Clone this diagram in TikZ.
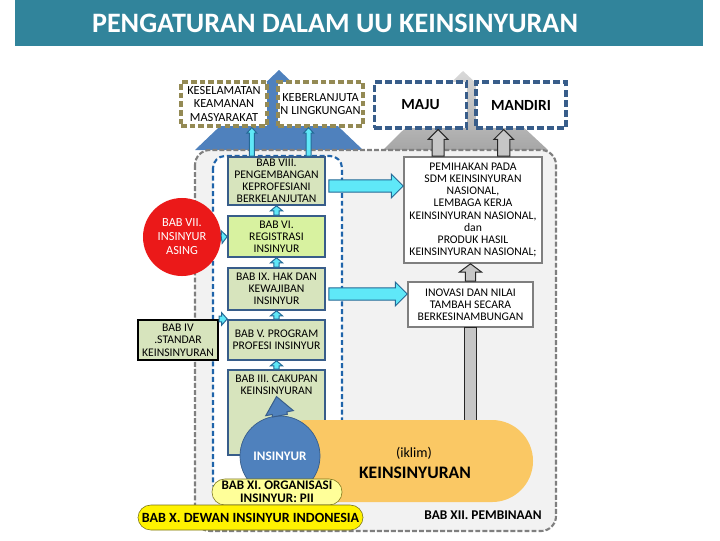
\documentclass[tikz,border=0pt]{standalone}
\usepackage{fontspec}
\setmainfont{Carlito}
\usepackage{xcolor}
\usepackage{tikz}
\usetikzlibrary{positioning,calc}

\definecolor{titlebar}{RGB}{49,132,155}
\definecolor{bigblue}{RGB}{79,129,189}
\definecolor{boxedge}{RGB}{56,93,138}
\definecolor{olivegreen}{RGB}{215,228,189}
\definecolor{limegreen}{RGB}{216,242,160}
\definecolor{cyanfill}{RGB}{95,232,248}
\definecolor{cyanedge}{RGB}{35,105,150}
\definecolor{dashgray}{RGB}{127,127,127}
\definecolor{panel}{RGB}{242,242,242}
\definecolor{khaki}{RGB}{148,138,84}
\definecolor{bluedash}{RGB}{31,100,170}
\definecolor{redball}{RGB}{235,25,25}
\definecolor{climate}{RGB}{250,200,100}
\definecolor{paleyellow}{RGB}{255,255,153}

% block arrow: [style]{from}{to}{half shaft}{half head}{head length}
\newcommand{\fatarrow}[6][]{%
  \coordinate (fa) at ($(#3)!#6!(#2)$);
  \draw[#1] ($(#2)!#4!90:(#3)$) -- ($(fa)!#4!90:(#3)$) -- ($(fa)!#5!90:(#3)$) -- (#3)
    -- ($(fa)!#5!-90:(#3)$) -- ($(fa)!#4!-90:(#3)$) -- ($(#2)!#4!-90:(#3)$) -- cycle;}

\begin{document}
\begin{tikzpicture}[x=0.025cm, y=-0.025cm,
  txt/.style={font=\fontsize{8.3}{8.6}\selectfont, align=center},
  gbox/.style={txt, draw=boxedge, line width=1.1pt, fill=olivegreen, minimum width=2.425cm, inner xsep=1pt, inner ysep=0pt},
  goalbox/.style={draw=khaki, fill=white, line width=2.2pt, dash pattern=on 4pt off 2.2pt, align=center, font=\fontsize{8.8}{9.6}\selectfont, inner sep=0pt},
  aimbox/.style={draw=boxedge, fill=white, line width=2.2pt, dash pattern=on 5pt off 2.2pt, font=\fontsize{11}{13}\selectfont\bfseries, minimum width=2.3cm, minimum height=1.15cm},
  whitebox/.style={txt, draw=dashgray, fill=white, line width=1.1pt, inner sep=1pt},
  cyanarr/.style={fill=cyanfill, draw=cyanedge, line width=0.7pt},
  grayarr/.style={fill=gray!45, draw=black!85, line width=0.7pt},
  insarr/.style={fill=bigblue, draw=boxedge, line width=0.7pt},
  ovalbox/.style={draw=olive!80!black, rounded corners=0.32cm, font=\fontsize{9.3}{9}\selectfont\bfseries, align=center, inner sep=0pt}]

\useasboundingbox (0,0) rectangle (720,540);

% title
\fill[titlebar] (15,0) rectangle (703,46);
\node[text=white, font=\fontsize{20}{22}\selectfont\bfseries] (title) at (335,23) {PENGATURAN DALAM UU KEINSINYURAN};

% goals
\fill[bigblue] (195,150) -- (279,70) -- (363,150) -- cycle;
\shade[top color=gray!30, bottom color=gray!70] (383,150) -- (463,71) -- (548,150) -- cycle;
\node[goalbox, minimum width=2.15cm, minimum height=1.1cm] (kesel) at (224,104) {KESELAMATAN\\KEAMANAN\\MASYARAKAT};
\node[goalbox, minimum width=2.125cm, minimum height=1.1cm] (keber) at (320.5,104) {KEBERLANJUTA\\N LINGKUNGAN};
\node[aimbox] (maju) at (420.5,105) {MAJU};
\node[aimbox, minimum width=2.25cm] (mandiri) at (521,105) {MANDIRI};

% panels
\draw[dashgray, fill=panel, line width=1.5pt, dash pattern=on 3.5pt off 1.5pt, rounded corners=0.375cm] (195,150) rectangle (556,531);
\draw[bluedash, fill=white, line width=1.5pt, dash pattern=on 3.5pt off 2pt, rounded corners=0.3cm] (213,156) rectangle (342,495);

% chapters
\node[gbox, minimum height=1.2cm] (b8) at (276.5,181) {BAB VIII.\\PENGEMBANGAN\\KEPROFESIANI\\BERKELANJUTAN};
\node[gbox, fill=limegreen, minimum height=1.025cm] (b6) at (276.5,236.5) {BAB VI.\\REGISTRASI\\INSINYUR};
\node[gbox, minimum height=1.05cm] (b9) at (276.5,289) {BAB IX. HAK DAN\\KEWAJIBAN\\INSINYUR};
\node[gbox, minimum height=1cm] (b5) at (276.5,340) {BAB V. PROGRAM\\PROFESI INSINYUR};
\node[gbox, minimum height=2.125cm, label={[txt, name=b3t, anchor=north, inner sep=1pt, yshift=-3pt]north:{BAB III. CAKUPAN\\KEINSINYURAN}}] (b3) at (276.5,412.5) {};

\node[circle, fill=redball, text=white, minimum size=1.95cm, inner sep=0pt, align=center, font=\fontsize{8.8}{10}\selectfont] (b7) at (182,237) {BAB VII.\\INSINYUR\\ASING};
\node[txt, draw=black, line width=1.5pt, fill=olivegreen, minimum width=2cm, minimum height=1cm, inner sep=0pt, font=\fontsize{8.3}{9}\selectfont] (b4) at (178,340) {BAB IV\\.STANDAR\\KEINSINYURAN};

\node[whitebox, minimum width=3.45cm, minimum height=2.65cm] (pemi) at (473,210) {PEMIHAKAN PADA\\SDM KEINSINYURAN\\NASIONAL,\\LEMBAGA KERJA\\KEINSINYURAN NASIONAL,\\dan\\PRODUK HASIL\\KEINSINYURAN NASIONAL;};
\node[whitebox, minimum width=3.125cm, minimum height=1.125cm] (inov) at (470.5,304.5) {INOVASI DAN NILAI\\TAMBAH SECARA\\BERKESINAMBUNGAN};

% climate
\coordinate (klimtop) at (470.5,425);
\draw[grayarr] ($(inov.south)+(-6,0)$) rectangle ($(klimtop)+(6,0)$);
\fill[climate] (290,502) -- (290,435) arc[start angle=180, end angle=90, radius=0.375cm] -- (492,420) arc[start angle=90, end angle=-90, radius=1.025cm] -- cycle;
\node[font=\fontsize{10}{11}\selectfont] (iklim) at (414,453) {(iklim)};
\node[font=\fontsize{12.5}{13}\selectfont\bfseries] (kein) at (415,473) {KEINSINYURAN};

\node[circle, fill=bigblue, draw=boxedge, line width=0.5pt, minimum size=2cm, inner sep=0pt, text=white, font=\fontsize{9.3}{9}\selectfont\bfseries] (ins) at (280,456) {INSINYUR};
\fatarrow[insarr]{ins.north}{b3t.south}{5.3pt}{10pt}{12pt}

\node[ovalbox, fill=paleyellow, minimum width=3.25cm, minimum height=0.65cm] (b11) at (277,492) {BAB XI. ORGANISASI\\INSINYUR: PII};
\node[ovalbox, fill=yellow, minimum width=5.625cm, minimum height=0.625cm, font=\fontsize{10}{10}\selectfont\bfseries] (b10) at (250.5,517.5) {BAB X. DEWAN INSINYUR INDONESIA};
\node[font=\fontsize{9.5}{10}\selectfont\bfseries] (b12) at (483,515) {BAB XII. PEMBINAAN};

% arrows
\foreach \a/\b in {b6/b8, b9/b6, b5/b9, b3/b5}
  \fatarrow[cyanarr]{\a.north}{\b.south}{1.8pt}{4.3pt}{3.6pt};

\fatarrow[cyanarr]{b7.east}{b6.west}{2pt}{4.5pt}{4pt}
\coordinate (c5) at (b4.north east);
\coordinate (c6) at (b5.west |- c5);
\fatarrow[cyanarr]{c5}{c6}{2pt}{4.5pt}{4pt}

\coordinate (a1) at ($(b8.north west)!0.25!(b8.north east)$);
\coordinate (a2) at (kesel.south -| a1);
\coordinate (a3) at ($(b8.north west)!0.825!(b8.north east)$);
\coordinate (a4) at (keber.south -| a3);
\fatarrow[cyanarr]{a1}{a2}{1.8pt}{3.6pt}{4pt}
\fatarrow[cyanarr]{a3}{a4}{1.8pt}{3.6pt}{4pt}

\coordinate (c1) at ($(b8.east)+(3,5)$);
\coordinate (c2) at (pemi.west |- c1);
\fatarrow[cyanarr]{c1}{c2}{4.3pt}{8.5pt}{8.5pt}
\coordinate (c3) at ($(b9.east)+(3,5)$);
\coordinate (c4) at (inov.west |- c3);
\fatarrow[cyanarr]{c3}{c4}{4.3pt}{8.5pt}{8.5pt}

\coordinate (p1) at ($(pemi.north west)!0.25!(pemi.north east)$);
\coordinate (p2) at (maju.south -| p1);
\coordinate (p3) at ($(pemi.north west)!0.72!(pemi.north east)$);
\coordinate (p4) at (mandiri.south -| p3);
\fatarrow[grayarr]{p1}{p2}{4.3pt}{7pt}{7pt}
\fatarrow[grayarr]{p3}{p4}{4.3pt}{7pt}{7pt}
\coordinate (p5) at (pemi.south -| inov.north);
\fatarrow[grayarr]{inov.north}{p5}{3.6pt}{8pt}{6pt}

\end{tikzpicture}
\end{document}
